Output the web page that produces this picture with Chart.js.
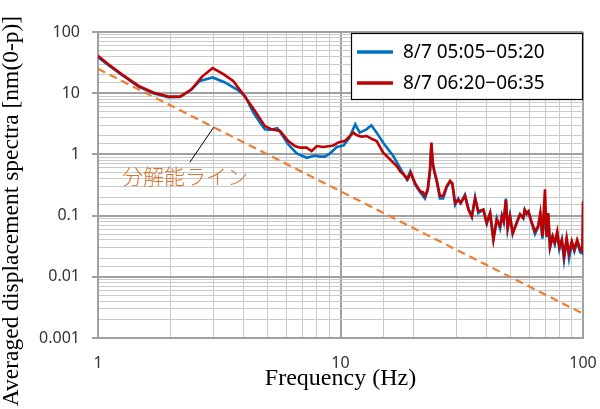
<!DOCTYPE html>
<html lang="ja">
<head>
<meta charset="utf-8">
<title>Averaged displacement spectra</title>
<script src="https://cdn.jsdelivr.net/npm/chart.js@4.4.1/dist/chart.umd.min.js"></script>
<style>
    html, body {
        margin: 0;
        padding: 0;
        background: #ffffff;
    }
    #chart {
        display: block;
    }
</style>
</head>
<body>
<canvas id="chart" width="600" height="409"></canvas>
<script>
// 8/7 05:05-05:20 (blue)
const blueFreq = [1.00, 1.10, 1.25, 1.47, 1.69, 1.95, 2.18, 2.43, 2.63, 2.97, 3.34, 3.73, 4.04, 4.37, 4.66, 4.88, 5.10, 5.49, 5.72, 6.09,
    6.60, 7.25, 7.85, 8.20, 8.60, 9.05, 9.65, 10.3, 10.9, 11.5, 12.0, 12.8, 13.4, 14.1, 15.0, 16.5, 17.6, 18.75, 19.4,
    20.3, 21.3, 22.3, 22.9, 23.4, 23.7, 24.0, 24.4, 24.9, 25.7, 26.5, 27.4, 28.3, 28.9, 29.7, 30.6, 31.3, 32.6, 33.7, 34.8,
    35.9, 37.0, 38.8, 40.1, 41.4, 42.7, 44.1, 45.5, 46.3, 47.1, 48.1, 48.9, 50.0, 51.3, 53.3, 55.0, 56.7, 57.5, 58.5, 59.6,
    60.9, 63.4, 65.3, 66.7, 68.0, 69.7, 70.7, 71.9, 73.1, 74.9, 76.5, 78.3, 79.9, 81.8, 83.5, 85.6, 87.6, 89.9, 92.1, 94.6,
    97.3, 99.3, 100]
const blueValues = [39, 29, 20, 12.8, 10.0, 8.6, 8.7, 11.5, 15.9, 18.1, 15.0, 11.6, 9.0, 4.8, 3.3, 2.57, 2.5, 2.67, 2.13, 1.46,
    1.04, 0.88, 0.96, 0.92, 0.92, 1.04, 1.32, 1.4, 1.88, 3.1, 2.27, 2.57, 2.99, 2.27, 1.55, 0.94, 0.6, 0.39, 0.53,
    0.32, 0.24, 0.19, 0.26, 0.55, 1.5, 0.7, 0.5, 0.37, 0.19, 0.19, 0.29, 0.36, 0.33, 0.15, 0.19, 0.16, 0.22, 0.13, 0.095,
    0.2, 0.11, 0.125, 0.073, 0.11, 0.042, 0.09, 0.062, 0.1, 0.078, 0.19, 0.06, 0.1, 0.05, 0.078, 0.106, 0.09, 0.122, 0.105, 0.115,
    0.084, 0.05, 0.065, 0.1, 0.042, 0.12, 0.044, 0.1, 0.03, 0.045, 0.034, 0.05, 0.028, 0.04, 0.019, 0.04, 0.02, 0.035, 0.026, 0.038,
    0.025, 0.024, 0.03]

// 8/7 06:20-06:35 (red)
const redFreq = [1.00, 1.10, 1.25, 1.47, 1.69, 1.95, 2.18, 2.43, 2.68, 2.97, 3.29, 3.61, 3.97, 4.44, 4.88, 5.20, 5.63, 6.09, 6.49, 6.81,
    7.25, 7.60, 7.98, 8.49, 9.05, 9.34, 9.80, 10.4, 11.3, 11.7, 12.2, 12.8, 13.4, 14.1, 15.0, 16.0, 17.1, 17.6, 18.5, 18.9, 19.5,
    20.3, 21.3, 21.9, 22.3, 22.9, 23.4, 23.7, 24.0, 24.4, 24.9, 25.7, 26.5, 27.4, 28.3, 28.9, 29.7, 30.6, 31.3, 32.6, 33.7, 34.8,
    35.9, 37.0, 38.8, 40.1, 41.4, 42.7, 44.1, 45.5, 46.3, 47.1, 48.1, 48.9, 50.0, 51.3, 53.3, 55.0, 56.7, 57.5, 58.5, 59.6,
    60.9, 63.4, 65.3, 66.7, 68.0, 69.7, 70.7, 71.9, 73.1, 74.9, 76.5, 78.3, 79.9, 81.8, 83.5, 85.6, 87.6, 89.9, 92.1, 94.6,
    97.3, 99.3, 100]
const redValues = [40.8, 30, 20.5, 13.2, 10.3, 8.8, 8.8, 11.6, 18.5, 25.7, 20.5, 15.9, 9.6, 5.1, 2.9, 2.57, 2.41, 1.65, 1.37, 1.29,
    1.29, 1.13, 1.37, 1.32, 1.37, 1.40, 1.57, 1.65, 2.27, 2.05, 1.95, 2.0, 1.81, 1.65, 1.07, 0.83, 0.64, 0.53, 0.44, 0.39, 0.5,
    0.34, 0.25, 0.24, 0.21, 0.27, 0.57, 1.56, 0.73, 0.53, 0.39, 0.21, 0.21, 0.30, 0.37, 0.34, 0.16, 0.18, 0.16, 0.21, 0.125, 0.097,
    0.19, 0.118, 0.125, 0.076, 0.11, 0.040, 0.086, 0.067, 0.097, 0.081, 0.18, 0.063, 0.097, 0.052, 0.076, 0.104, 0.092, 0.125, 0.11, 0.118,
    0.086, 0.055, 0.067, 0.11, 0.046, 0.27, 0.046, 0.11, 0.031, 0.046, 0.036, 0.055, 0.031, 0.040, 0.0215, 0.043, 0.024, 0.038, 0.028, 0.040,
    0.028, 0.026, 0.17]

// 分解能ライン (two end points of the straight line)
const resolutionFreq = [1, 100]
const resolutionValues = [25, 0.0025]

const seriesLabels = ['8/7 05:05\u221205:20', '8/7 06:20\u221206:35']
const xTickValues = [1, 10, 100]
const xTickLabels = ['1', '10', '100']
const yTickValues = [0.001, 0.01, 0.1, 1, 10, 100]
const yTickLabels = ['0.001', '0.01', '0.1', '1', '10', '100']

const xTitle = 'Frequency (Hz)'
const yTitle = 'Averaged displacement spectra [nm(0-p)]'
const noteText = '分解能ライン'
const noteAnchor = [3, 2.78]   // point on the resolution line
const noteTail = [2.39, 0.74]
const noteAt = [1.256, 0.436]

const colors = {
    blue: '#0070C0',
    red: '#C00000',
    orange: '#ED7D31',
    note: '#D8732F',
    gridMajor: '#A0A0A0',
    gridMinor: '#CACACA',
    tick: '#333333',
}

const toPoints = (xs, ys) => xs.map((x, i) => ({x: x, y: ys[i]}))

const isDecade = (v) => {
    if (!v) return false
    const l = Math.log10(v)
    return Math.abs(l - Math.round(l)) < 1e-6
}

const tickLabel = (value, values, labels) => {
    const i = values.findIndex(v => Math.abs(value - v) / v < 1e-6)
    return i >= 0 ? labels[i] : ''
}

const gridColor = (c) => (c.tick && isDecade(c.tick.value)) ? colors.gridMajor : colors.gridMinor
const gridWidth = (c) => (c.tick && isDecade(c.tick.value)) ? 2 : 1

// legend, axis titles and the note are drawn on top of the chart
const overlayPlugin = {
    id: 'overlay',
    afterDraw(chart) {
        const ctx = chart.ctx
        const xs = chart.scales.x
        const ys = chart.scales.y
        const area = chart.chartArea
        ctx.save()

        // note with leader line
        ctx.strokeStyle = '#000000'
        ctx.lineWidth = 1
        ctx.setLineDash([])
        ctx.beginPath()
        ctx.moveTo(xs.getPixelForValue(noteAnchor[0]), ys.getPixelForValue(noteAnchor[1]))
        ctx.lineTo(xs.getPixelForValue(noteTail[0]), ys.getPixelForValue(noteTail[1]))
        ctx.stroke()
        ctx.fillStyle = colors.note
        ctx.font = '300 21px "Noto Sans CJK JP"'
        ctx.textAlign = 'left'
        ctx.textBaseline = 'middle'
        ctx.fillText(noteText, xs.getPixelForValue(noteAt[0]), ys.getPixelForValue(noteAt[1]))

        // legend box
        const boxW = 231
        const boxH = 66
        const boxX = area.right - boxW - 1
        const boxY = area.top + 1
        ctx.fillStyle = '#ffffff'
        ctx.fillRect(boxX, boxY, boxW, boxH)
        ctx.strokeStyle = '#000000'
        ctx.lineWidth = 1.2
        ctx.strokeRect(boxX + 0.5, boxY + 0.5, boxW, boxH)
        const legendColors = [colors.blue, colors.red]
        ctx.font = '19px "Noto Sans", sans-serif'
        ctx.textBaseline = 'middle'
        seriesLabels.forEach((label, i) => {
            const ly = boxY + 19 + i * 31
            ctx.strokeStyle = legendColors[i]
            ctx.lineWidth = 3.5
            ctx.beginPath()
            ctx.moveTo(boxX + 6, ly)
            ctx.lineTo(boxX + 42, ly)
            ctx.stroke()
            ctx.fillStyle = '#000000'
            ctx.fillText(label, boxX + 52, ly + 1)
        })

        // axis titles
        ctx.fillStyle = '#000000'
        ctx.font = '24px "Liberation Serif", serif'
        ctx.textAlign = 'center'
        ctx.textBaseline = 'alphabetic'
        ctx.fillText(xTitle, (area.left + area.right) / 2, 385)

        ctx.font = '23.5px "Liberation Serif", serif'
        ctx.translate(18, 211)
        ctx.rotate(-Math.PI / 2)
        ctx.fillText(yTitle, 0, 0)

        ctx.restore()
    }
}

const config = {
    type: 'line',
    data: {
        datasets: [
            {
                label: seriesLabels[1],
                data: toPoints(redFreq, redValues),
                borderColor: colors.red,
                borderWidth: 2.6,
                pointRadius: 0,
                tension: 0,
                order: 1,
            },
            {
                label: seriesLabels[0],
                data: toPoints(blueFreq, blueValues),
                borderColor: colors.blue,
                borderWidth: 2.6,
                pointRadius: 0,
                tension: 0,
                order: 2,
            },
            {
                label: noteText,
                data: toPoints(resolutionFreq, resolutionValues),
                borderColor: colors.orange,
                borderWidth: 2.2,
                borderDash: [8, 5],
                pointRadius: 0,
                tension: 0,
                order: 3,
            },
        ]
    },
    options: {
        responsive: false,
        animation: false,
        devicePixelRatio: 1,
        layout: {
            padding: {top: 32, right: 17, left: 0, bottom: 0}
        },
        plugins: {
            legend: {display: false},
            tooltip: {enabled: false},
            title: {display: false},
        },
        scales: {
            x: {
                type: 'logarithmic',
                min: 1,
                max: 100,
                afterFit: (scale) => {
                    scale.height = 71
                    scale.paddingLeft = 0
                    scale.paddingRight = 0
                },
                border: {display: true, color: colors.gridMajor, width: 2},
                grid: {
                    color: gridColor,
                    lineWidth: gridWidth,
                    drawTicks: false,
                },
                ticks: {
                    autoSkip: false,
                    maxRotation: 0,
                    padding: 16,
                    color: colors.tick,
                    font: {family: '"Noto Sans", sans-serif', size: 16},
                    callback: (value) => tickLabel(value, xTickValues, xTickLabels),
                },
            },
            y: {
                type: 'logarithmic',
                min: 0.001,
                max: 100,
                afterFit: (scale) => {
                    scale.width = 98
                    scale.paddingTop = 0
                    scale.paddingBottom = 0
                },
                border: {display: true, color: colors.gridMajor, width: 2},
                grid: {
                    color: gridColor,
                    lineWidth: gridWidth,
                    tickLength: 6,
                    tickColor: (c) => (c.tick && isDecade(c.tick.value)) ? colors.gridMajor : 'rgba(0,0,0,0)',
                },
                ticks: {
                    autoSkip: false,
                    padding: 12,
                    color: colors.tick,
                    font: {family: '"Noto Sans", sans-serif', size: 16},
                    callback: (value) => tickLabel(value, yTickValues, yTickLabels),
                },
            },
        },
    },
    plugins: [overlayPlugin],
}

const chart = new Chart(document.getElementById('chart'), config)
</script>
</body>
</html>
